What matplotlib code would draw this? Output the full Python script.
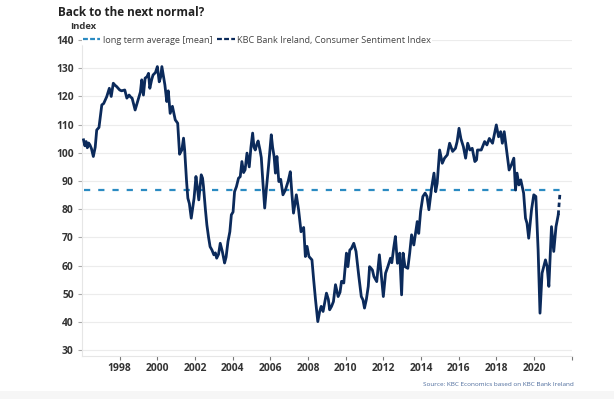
import matplotlib
matplotlib.use("Agg")
import matplotlib.pyplot as plt
from matplotlib.lines import Line2D
from matplotlib.patches import Rectangle

# KBC Bank Ireland consumer sentiment index
years = [1996.08, 1996.15, 1996.22, 1996.28, 1996.35, 1996.42, 1996.5, 1996.6, 1996.7, 1996.78,
         1996.9, 1997.05, 1997.15, 1997.31, 1997.45, 1997.55, 1997.66, 1997.75, 1997.84, 1998.0,
         1998.1, 1998.27, 1998.38, 1998.5, 1998.58, 1998.66, 1998.82, 1999.0, 1999.1, 1999.17,
         1999.26, 1999.35, 1999.45, 1999.53, 1999.6, 1999.7, 1999.77, 1999.9, 2000.0, 2000.1,
         2000.18, 2000.24, 2000.4, 2000.5, 2000.58, 2000.68, 2000.8, 2000.95, 2001.08, 2001.18,
         2001.3, 2001.39, 2001.45, 2001.55, 2001.62, 2001.7, 2001.8, 2001.95, 2002.05, 2002.12,
         2002.2, 2002.33, 2002.4, 2002.45, 2002.55, 2002.63, 2002.72, 2002.8, 2002.9, 2003.0,
         2003.08, 2003.15, 2003.25, 2003.34, 2003.45, 2003.57, 2003.65, 2003.75, 2003.85, 2003.93,
         2004.02, 2004.1, 2004.2, 2004.31, 2004.4, 2004.49, 2004.58, 2004.66, 2004.76, 2004.88,
         2004.97, 2005.06, 2005.13, 2005.2, 2005.28, 2005.35, 2005.45, 2005.52, 2005.6, 2005.7,
         2005.8, 2005.9, 2006.05, 2006.12, 2006.2, 2006.27, 2006.35, 2006.45, 2006.55, 2006.67,
         2006.8, 2006.95, 2007.06, 2007.15, 2007.23, 2007.38, 2007.5, 2007.63, 2007.77, 2007.86,
         2007.95, 2008.05, 2008.21, 2008.3, 2008.4, 2008.52, 2008.62, 2008.7, 2008.8, 2008.98,
         2009.08, 2009.15, 2009.25, 2009.35, 2009.46, 2009.6, 2009.7, 2009.78, 2009.9, 2010.04,
         2010.12, 2010.22, 2010.3, 2010.43, 2010.55, 2010.7, 2010.83, 2010.92, 2011.0, 2011.1,
         2011.2, 2011.27, 2011.35, 2011.42, 2011.5, 2011.65, 2011.79, 2011.9, 2012.0, 2012.12,
         2012.24, 2012.38, 2012.45, 2012.55, 2012.64, 2012.75, 2012.87, 2012.97, 2013.05, 2013.15,
         2013.3, 2013.4, 2013.5, 2013.62, 2013.8, 2013.88, 2013.98, 2014.1, 2014.22, 2014.32,
         2014.42, 2014.56, 2014.69, 2014.78, 2014.86, 2014.99, 2015.13, 2015.25, 2015.4, 2015.52,
         2015.68, 2015.83, 2015.92, 2016.02, 2016.12, 2016.25, 2016.37, 2016.48, 2016.6, 2016.72,
         2016.86, 2016.95, 2017.0, 2017.2, 2017.38, 2017.5, 2017.63, 2017.8, 2018.0, 2018.12,
         2018.23, 2018.32, 2018.42, 2018.5, 2018.57, 2018.68, 2018.8, 2018.93, 2019.02, 2019.1,
         2019.2, 2019.3, 2019.45, 2019.55, 2019.63, 2019.72, 2019.87, 2019.99, 2020.1, 2020.22,
         2020.32, 2020.43, 2020.61, 2020.7, 2020.79, 2020.93, 2021.05, 2021.17, 2021.29]
sentiment = [104.6, 102.5, 104.0, 101.8, 103.5, 102.8, 101.5, 98.7, 102.0, 108.1,
             109.0, 117.0, 117.5, 119.9, 122.9, 120.0, 124.7, 124.0, 123.5, 122.3,
             122.0, 122.3, 119.4, 120.5, 119.8, 119.4, 115.2, 119.4, 121.6, 125.9,
             120.5, 126.5, 127.0, 128.2, 122.9, 126.0, 127.6, 128.5, 130.6, 125.2,
             127.0, 130.6, 124.1, 118.2, 122.0, 114.0, 116.5, 111.7, 110.5, 99.5,
             101.0, 105.2, 101.0, 90.0, 83.9, 82.0, 76.8, 83.9, 91.6, 88.0,
             83.3, 92.2, 91.0, 88.0, 80.0, 74.4, 70.0, 66.7, 65.5, 63.8,
             64.5, 62.6, 64.0, 67.9, 65.0, 60.9, 63.0, 68.5, 72.0, 78.0,
             79.0, 86.2, 88.0, 91.0, 91.5, 96.9, 93.0, 94.0, 99.9, 95.0,
             102.0, 107.0, 102.0, 101.0, 103.0, 104.2, 101.0, 98.3, 90.0, 80.4,
             88.0, 95.0, 106.4, 102.0, 98.7, 92.8, 98.7, 89.8, 90.6, 85.1,
             86.8, 90.0, 93.3, 85.0, 78.6, 85.1, 79.8, 72.0, 73.5, 63.2,
             66.8, 63.2, 62.0, 55.0, 47.8, 40.1, 43.7, 45.5, 43.7, 50.2,
             48.0, 44.3, 45.5, 47.2, 53.2, 49.0, 50.5, 54.4, 53.8, 64.4,
             59.6, 65.5, 66.0, 67.9, 65.0, 56.1, 49.0, 47.8, 44.9, 48.0,
             52.6, 59.6, 59.0, 58.4, 56.1, 54.3, 63.8, 56.1, 49.0, 57.3,
             59.6, 62.6, 61.0, 66.2, 70.3, 60.8, 64.4, 49.6, 64.4, 59.6,
             59.0, 64.4, 70.9, 67.3, 75.6, 71.4, 79.2, 84.5, 85.7, 84.5,
             79.8, 87.4, 92.8, 86.2, 89.2, 101.0, 96.3, 98.1, 99.3, 103.4,
             100.5, 101.6, 104.0, 108.7, 105.0, 102.2, 98.1, 103.4, 101.0, 101.6,
             96.9, 97.5, 101.0, 101.0, 104.0, 102.8, 105.1, 103.4, 109.9, 105.7,
             107.5, 103.4, 107.5, 103.4, 99.9, 93.9, 95.7, 98.1, 86.8, 92.8,
             88.6, 90.4, 85.7, 76.8, 75.0, 69.7, 79.8, 85.1, 84.5, 65.6,
             43.1, 57.3, 62.0, 59.6, 52.6, 73.8, 65.0, 73.8, 78.0]
# latest (flash) reading, drawn dashed
latest_year = [2021.29, 2021.38]
latest_value = [78.0, 85.7]
long_term_avg = 86.8
avg_span = [1996.08, 2021.38]
tick_years = [1998, 2000, 2002, 2004, 2006, 2008, 2010, 2012, 2014, 2016, 2018, 2020, 2022]
tick_labels = ["1998", "2000", "2002", "2004", "2006", "2008", "2010", "2012", "2014",
               "2016", "2018", "2020", ""]
y_ticks = list(range(30, 141, 10))

navy = "#0b2a5b"
teal = "#2b8bc2"

plt.rcParams["font.family"] = ["Open Sans", "DejaVu Sans"]

fig = plt.figure(figsize=(6.14, 3.99), dpi=100)
fig.patches.append(Rectangle((0, 0), 1, 0.02, transform=fig.transFigure,
                             facecolor="#f6f6f6", edgecolor="none", zorder=0))
ax = fig.add_axes([0.1336, 0.1078, 0.7974, 0.7917])

ax.plot(avg_span, [long_term_avg, long_term_avg], color=teal, lw=1.6,
        dashes=(2.8, 3.6), zorder=2)
ax.plot(years, sentiment, color=navy, lw=2.0, solid_joinstyle="round", zorder=3)
ax.plot(latest_year, latest_value, color=navy, lw=2.0, dashes=(1.6, 1.2), zorder=3)

ax.set_xlim(1996, 2022)
ax.set_ylim(27.9, 140)
ax.set_yticks(y_ticks)
ax.set_xticks(tick_years)
ax.set_xticklabels(tick_labels)
ax.grid(axis="y", color="#ececec", lw=0.8)
ax.set_axisbelow(True)
for s in ["top", "right"]:
    ax.spines[s].set_visible(False)
for s in ["left", "bottom"]:
    ax.spines[s].set_color("#e6e6e6")
    ax.spines[s].set_linewidth(0.8)
ax.tick_params(axis="y", length=3, color="#aaaaaa", pad=3, labelsize=7.4,
               labelcolor="#333333")
ax.tick_params(axis="x", length=3, color="#777777", pad=2, labelsize=7.4,
               labelcolor="#333333")
for lab in ax.get_xticklabels() + ax.get_yticklabels():
    lab.set_fontweight("bold")

handles = [Line2D([], [], color=teal, lw=1.6, dashes=(2.2, 1.0)),
           Line2D([], [], color=navy, lw=1.6, dashes=(2.2, 1.0))]
leg = ax.legend(handles, ["long term average [mean]", "KBC Bank Ireland, Consumer Sentiment Index"],
                loc="center left", bbox_to_anchor=(0.0, 1.0), ncol=2, frameon=True,
                fontsize=6.6, handlelength=1.9, handletextpad=0.3, columnspacing=0.5,
                borderpad=0.1, borderaxespad=0)
leg.get_frame().set_facecolor("white")
leg.get_frame().set_edgecolor("none")
leg.get_frame().set_alpha(1)
for t in leg.get_texts():
    t.set_color("#444444")

fig.text(0.094, 0.968, "Back to the next normal?", fontsize=8.5, fontweight="bold",
         color="#222222", va="center", ha="left")
fig.text(0.114, 0.933, "Index", fontsize=6.8, fontweight="bold", color="#333333",
         va="center", ha="left")
fig.text(0.935, 0.036, "Source: KBC Economics based on KBC Bank Ireland", fontsize=4.6,
         color="#4b6a9b", va="center", ha="right")

fig.savefig("out.png", dpi=100)
